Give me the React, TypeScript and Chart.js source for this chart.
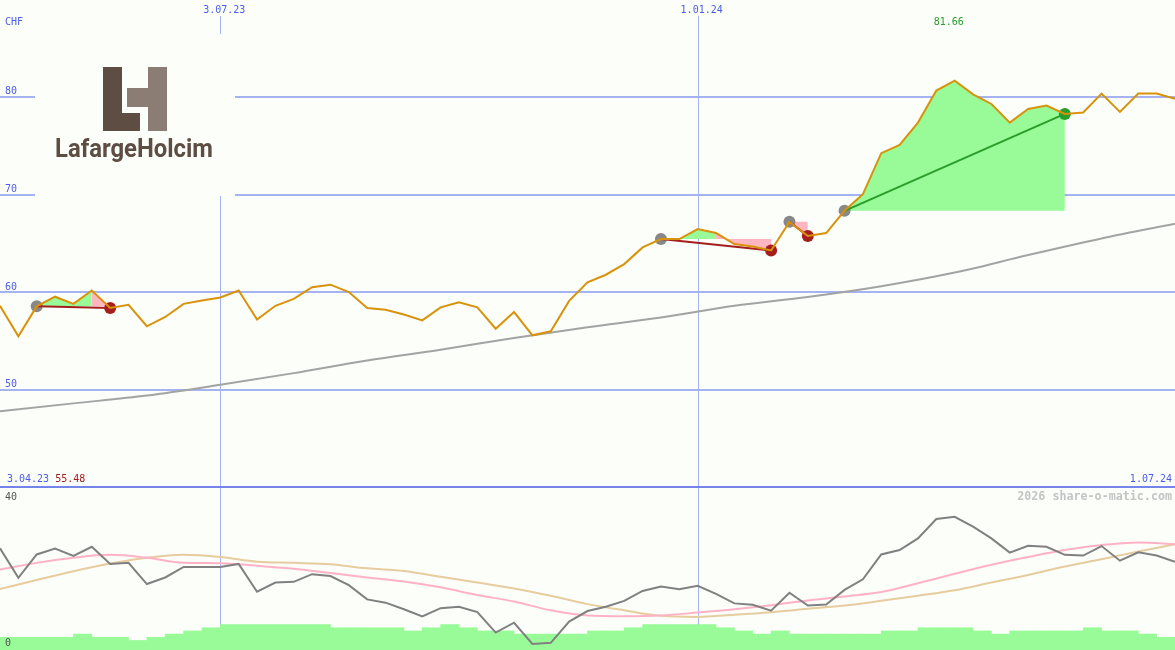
import React, { useEffect, useRef } from "react";
import { Chart, registerables } from "chart.js";

Chart.register(...registerables);

// ---------------- data ----------------
const START_DATE = "2023-04-03";
const FIRST_WEEK = "2023-04-10";
const END_DATE = "2024-07-01";
const DATE_LINES = ["2023-07-03", "2024-01-01"];
const CURRENCY = "CHF";
const PRICE_TICKS = [50, 60, 70, 80];
const OSC_TICKS = [40, 0];
const WATERMARK = "2026 share-o-matic.com";
const LOGO_TEXT = "LafargeHolcim";

// weekly closing prices (CHF)
const PRICE = [
  58.6, 55.48, 58.54, 59.53, 58.8, 60.17, 58.37, 58.7, 56.5, 57.45,
  58.8, 59.15, 59.45, 60.17, 57.2, 58.6, 59.3, 60.5, 60.76, 60.0,
  58.37, 58.2, 57.7, 57.1, 58.44, 58.95, 58.44, 56.25, 57.96, 55.57,
  55.98, 59.1, 61.0, 61.78, 62.87, 64.58, 65.43, 65.43, 66.46, 66.05,
  64.92, 64.68, 64.27, 67.2, 65.75, 66.05, 68.33, 70.04, 74.24, 75.09,
  77.37, 80.65, 81.66, 80.27, 79.28, 77.37, 78.77, 79.11, 78.26, 78.4,
  80.34, 78.46, 80.34, 80.34, 79.8,
];

// long moving average, one value every 4 weeks
const MA_LONG_STEP = 4;
const MA_LONG = [
  47.8, 48.6, 49.4, 50.5, 51.7, 53.0, 54.1, 55.3, 56.4, 57.4,
  58.6, 59.5, 60.6, 62.0, 63.8, 65.5, 67.0,
];

// lower panel oscillator, weekly
const OSC = [
  27.6, 19.5, 25.9, 27.5, 25.5, 28.0, 23.3, 23.6, 17.8, 19.6,
  22.5, 22.5, 22.5, 23.3, 15.7, 18.2, 18.4, 20.5, 20.0, 17.5,
  13.6, 12.7, 10.9, 8.9, 11.2, 11.6, 10.1, 4.5, 7.2, 1.4,
  1.7, 7.5, 10.4, 11.6, 13.2, 15.9, 17.1, 16.4, 17.3, 15.1,
  12.5, 12.1, 10.5, 15.4, 11.9, 12.2, 16.2, 19.1, 25.9, 27.1,
  30.3, 35.6, 36.2, 33.5, 30.3, 26.4, 28.3, 28.0, 25.8, 25.6,
  28.2, 24.2, 26.5, 25.6, 23.9,
];

// oscillator averages, one value every 2 weeks
const OSC_MA_STEP = 2;
const OSC_FAST = [
  21.8, 23.6, 25.0, 25.8, 25.0, 23.6, 23.5, 22.8, 22.0, 20.8,
  19.6, 18.5, 16.9, 14.8, 13.0, 10.6, 9.2, 9.0, 9.2, 10.0,
  10.9, 12.0, 13.3, 14.4, 15.6, 18.0, 20.6, 23.1, 25.2, 27.1,
  28.5, 29.2, 28.7,
];
const OSC_SLOW = [
  16.4, 18.9, 21.3, 23.4, 25.0, 25.8, 25.2, 23.9, 23.6, 23.2,
  22.1, 21.4, 19.8, 18.2, 16.6, 14.6, 12.3, 10.6, 9.1, 8.8,
  9.4, 10.1, 11.0, 11.9, 13.2, 14.6, 16.1, 18.2, 20.3, 22.6,
  24.6, 26.7, 28.7,
];

// weekly volume (relative units)
const VOLUME = [
  4, 4, 4, 4, 5, 4, 4, 3, 4, 5,
  6, 7, 8, 8, 8, 8, 8, 8, 7, 7,
  7, 7, 6, 7, 8, 7, 6, 6, 5, 5,
  5, 5, 6, 6, 7, 8, 8, 8, 8, 7,
  6, 5, 6, 5, 5, 5, 5, 5, 6, 6,
  7, 7, 7, 6, 5, 6, 6, 6, 6, 7,
  6, 6, 5, 4,
];

// signals: [entry week, exit week]
const TRADES = [
  [2, 6],
  [36, 42],
  [43, 44],
  [46, 58],
];

// ---------------- styling / layout ----------------
const BG = "#fcfefa";
const GRID = "#a6b3f2";
const SEP = "#7484ea";
const BLUE_TXT = "#4d5de6";
const ORANGE = "#d8920c";
const LOSS = "#a41e1e";
const WIN_LINE = "#2a9d2a";
const WIN_MARK = "#2a9d2a";
const ENTRY_MARK = "#888888";
const GAIN_FILL = "#98fb98";
const LOSS_FILL = "#ffb6c1";
const MA_GRAY = "#a3a3a3";
const OSC_GRAY = "#808080";
const OSC_PINK = "#ffb2c6";
const OSC_TAN = "#e6cc9e";
const VOL_GREEN = "#98fb98";

const PRICE_MIN = 23.33;
const PRICE_MAX = 89.93;
const OSC_MIN = -0.27;
const OSC_MAX = 177.8;
const VOL_MAX = 204.4;

const DAY_MS = 86400000;
const toUTC = (s: string) => {
  const [y, m, d] = s.split("-").map(Number);
  return Date.UTC(y, m - 1, d);
};
const dayNum = (s: string) => Math.round((toUTC(s) - toUTC(START_DATE)) / DAY_MS);
const fmtDate = (s: string) => {
  const [y, m, d] = s.split("-").map(Number);
  return `${d}.${String(m).padStart(2, "0")}.${String(y % 100).padStart(2, "0")}`;
};
const X_FIRST = dayNum(FIRST_WEEK);
const X_LAST = dayNum(END_DATE);
const weekX = (i: number) => X_FIRST + 7 * i;

const MONO = "'DejaVu Sans Mono', monospace";

function drawLogo(ctx: CanvasRenderingContext2D) {
  ctx.fillStyle = BG;
  ctx.fillRect(35, 34, 200, 162);
  ctx.fillStyle = "#5d4d43";
  ctx.fillRect(103, 67, 19, 64);
  ctx.fillRect(103, 113, 37, 18);
  ctx.fillStyle = "#8b7c74";
  ctx.fillRect(148, 67, 19, 64);
  ctx.fillRect(127, 88, 21, 19);
  ctx.fillStyle = "#5d4d43";
  ctx.font = "bold 25px Roboto, 'Open Sans', sans-serif";
  ctx.textAlign = "left";
  ctx.textBaseline = "alphabetic";
  ctx.fillText(LOGO_TEXT, 55, 157, 158);
}

const panelPlugin = {
  id: "panels",
  beforeDraw(chart: any) {
    const { ctx, width, height } = chart;
    ctx.save();
    ctx.fillStyle = BG;
    ctx.fillRect(0, 0, width, height);
    ctx.restore();
  },
  beforeDatasetsDraw(chart: any) {
    const { ctx, width, height } = chart;
    const xs = chart.scales.x;
    const yP = chart.scales.yP;
    ctx.save();
    ctx.strokeStyle = GRID;
    ctx.lineWidth = 2;
    for (const v of PRICE_TICKS) {
      const y = Math.round(yP.getPixelForValue(v));
      ctx.beginPath();
      ctx.moveTo(0, y);
      ctx.lineTo(width, y);
      ctx.stroke();
    }
    ctx.lineWidth = 1;
    for (const d of DATE_LINES) {
      const px = Math.round(xs.getPixelForValue(dayNum(d))) + 0.5;
      ctx.beginPath();
      ctx.moveTo(px, 16);
      ctx.lineTo(px, height);
      ctx.stroke();
    }
    const sep = Math.round(yP.getPixelForValue(40));
    ctx.strokeStyle = SEP;
    ctx.lineWidth = 2;
    ctx.beginPath();
    ctx.moveTo(0, sep);
    ctx.lineTo(width, sep);
    ctx.stroke();
    drawLogo(ctx);
    ctx.restore();
  },
  afterDraw(chart: any) {
    const { ctx, width } = chart;
    const xs = chart.scales.x;
    const yP = chart.scales.yP;
    const yI = chart.scales.yI;
    ctx.save();
    ctx.font = `10px ${MONO}`;
    ctx.textBaseline = "alphabetic";
    ctx.textAlign = "left";
    ctx.fillStyle = BLUE_TXT;
    ctx.fillText(CURRENCY, 5, 25);
    for (const v of PRICE_TICKS) {
      const y = yP.getPixelForValue(v);
      ctx.fillText(String(v), 5, Math.round(y - 2.5));
    }
    ctx.textAlign = "center";
    for (const d of DATE_LINES) {
      const px = xs.getPixelForValue(dayNum(d));
      ctx.fillText(fmtDate(d), px + 4, 13);
    }
    let maxI = 0;
    let minI = 0;
    PRICE.forEach((v, i) => {
      if (v > PRICE[maxI]) maxI = i;
      if (v < PRICE[minI]) minI = i;
    });
    ctx.fillStyle = WIN_LINE;
    ctx.fillText(PRICE[maxI].toFixed(2), xs.getPixelForValue(weekX(maxI)) - 6, 25);
    ctx.textAlign = "left";
    ctx.fillStyle = BLUE_TXT;
    const startLbl = fmtDate(START_DATE);
    ctx.fillText(startLbl, 7, 482);
    const w = ctx.measureText(startLbl + " ").width;
    ctx.fillStyle = LOSS;
    ctx.fillText(PRICE[minI].toFixed(2), 7 + w, 482);
    ctx.textAlign = "right";
    ctx.fillStyle = BLUE_TXT;
    ctx.fillText(fmtDate(END_DATE), width - 3, 482);
    ctx.textAlign = "left";
    ctx.fillStyle = "#555555";
    for (const v of OSC_TICKS) {
      ctx.fillText(String(v), 5, Math.round(yI.getPixelForValue(v) - 3.5));
    }
    ctx.font = `bold 11.7px ${MONO}`;
    ctx.textAlign = "right";
    ctx.fillStyle = "#c4c4c4";
    ctx.fillText(WATERMARK, width - 3, 500);
    ctx.restore();
  },
};

function buildConfig(): any {
  const pricePts = PRICE.map((v, i) => ({ x: weekX(i), y: v }));
  const datasets: any[] = [];

  datasets.push({
    type: "line",
    label: "price",
    data: pricePts,
    yAxisID: "yP",
    borderColor: ORANGE,
    borderWidth: 2,
    pointRadius: 0,
    fill: false,
    order: 0,
  });

  TRADES.forEach(([a, b]) => {
    const win = PRICE[b] >= PRICE[a];
    datasets.push({
      type: "line",
      data: [
        { x: weekX(a), y: PRICE[a] },
        { x: weekX(b), y: PRICE[b] },
      ],
      yAxisID: "yP",
      borderColor: win ? WIN_LINE : LOSS,
      borderWidth: 2,
      pointRadius: 0,
      fill: false,
      order: 1,
    });
  });

  const markerPts: any[] = [];
  const markerCols: string[] = [];
  TRADES.forEach(([a, b]) => {
    markerPts.push({ x: weekX(a), y: PRICE[a] });
    markerCols.push(ENTRY_MARK);
    markerPts.push({ x: weekX(b), y: PRICE[b] });
    markerCols.push(PRICE[b] >= PRICE[a] ? WIN_MARK : LOSS);
  });
  datasets.push({
    type: "line",
    data: markerPts,
    yAxisID: "yP",
    showLine: false,
    pointRadius: 6,
    pointBackgroundColor: markerCols,
    pointBorderColor: "rgba(0,0,0,0)",
    pointBorderWidth: 0,
    fill: false,
    order: 2,
  });

  TRADES.forEach(([a, b]) => {
    const base = PRICE[a];
    datasets.push({
      type: "line",
      data: pricePts.slice(a, b + 1),
      yAxisID: "yP",
      borderColor: "rgba(0,0,0,0)",
      borderWidth: 0,
      pointRadius: 0,
      backgroundColor: GAIN_FILL,
      fill: { value: base },
      segment: {
        backgroundColor: (c: any) => (c.p1.parsed.y >= base ? GAIN_FILL : LOSS_FILL),
      },
      order: 3,
    });
  });

  datasets.push({
    type: "line",
    data: MA_LONG.map((v, k) => ({ x: weekX(k * MA_LONG_STEP), y: v })),
    yAxisID: "yP",
    borderColor: MA_GRAY,
    borderWidth: 2,
    pointRadius: 0,
    cubicInterpolationMode: "monotone",
    fill: false,
    order: 4,
  });

  datasets.push({
    type: "line",
    data: OSC.map((v, i) => ({ x: weekX(i), y: v })),
    yAxisID: "yI",
    borderColor: OSC_GRAY,
    borderWidth: 2,
    pointRadius: 0,
    fill: false,
    order: 5,
  });
  datasets.push({
    type: "line",
    data: OSC_FAST.map((v, k) => ({ x: weekX(k * OSC_MA_STEP), y: v })),
    yAxisID: "yI",
    borderColor: OSC_PINK,
    borderWidth: 2,
    pointRadius: 0,
    cubicInterpolationMode: "monotone",
    fill: false,
    order: 6,
  });
  datasets.push({
    type: "line",
    data: OSC_SLOW.map((v, k) => ({ x: weekX(k * OSC_MA_STEP), y: v })),
    yAxisID: "yI",
    borderColor: OSC_TAN,
    borderWidth: 2,
    pointRadius: 0,
    cubicInterpolationMode: "monotone",
    fill: false,
    order: 7,
  });

  datasets.push({
    type: "bar",
    data: VOLUME.map((v, i) => ({ x: weekX(i) + 3.5, y: v })),
    yAxisID: "yV",
    xAxisID: "x",
    backgroundColor: VOL_GREEN,
    borderWidth: 0,
    categoryPercentage: 1,
    barPercentage: 1,
    grouped: false,
    order: 9,
  });

  return {
    type: "line",
    data: { datasets },
    options: {
      animation: false,
      responsive: false,
      devicePixelRatio: 1,
      events: [],
      layout: { padding: 0, autoPadding: false },
      plugins: {
        legend: { display: false },
        tooltip: { enabled: false },
        title: { display: false },
      },
      scales: {
        x: { type: "linear", min: X_FIRST, max: X_LAST, display: false, offset: false },
        yP: { type: "linear", min: PRICE_MIN, max: PRICE_MAX, display: false },
        yI: { type: "linear", min: OSC_MIN, max: OSC_MAX, display: false },
        yV: { type: "linear", min: 0, max: VOL_MAX, display: false },
      },
    },
    plugins: [panelPlugin],
  };
}

export default function App() {
  const ref = useRef<HTMLCanvasElement>(null);
  useEffect(() => {
    const prev = document.body.style.margin;
    document.body.style.margin = "0";
    const chart = new Chart(ref.current as HTMLCanvasElement, buildConfig());
    return () => {
      chart.destroy();
      document.body.style.margin = prev;
    };
  }, []);
  return (
    <div style={{ width: 1175, height: 650, position: "relative" }}>
      <canvas ref={ref} width={1175} height={650} style={{ display: "block", width: 1175, height: 650 }} />
    </div>
  );
}
